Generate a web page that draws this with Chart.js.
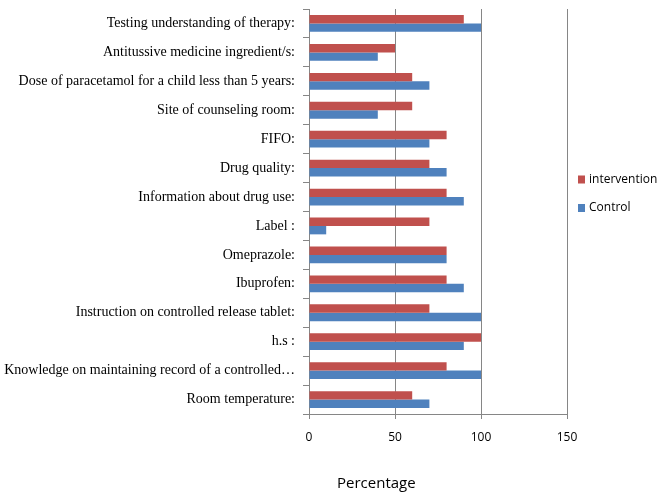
<!DOCTYPE html>
<html>
<head>
<meta charset="utf-8">
<script src="https://cdn.jsdelivr.net/npm/chart.js@4"></script>
<style>
  html, body { margin: 0; padding: 0; background: #fff; }
  #wrap { width: 661px; height: 493px; }
</style>
</head>
<body>
<div id="wrap"><canvas id="bars" width="661" height="493"></canvas></div>
<script>
// Categories from top to bottom
const categories = [
    'Testing understanding of therapy:',
    'Antitussive medicine ingredient/s:',
    'Dose of paracetamol for a child less than 5 years:',
    'Site of counseling room:',
    'FIFO:',
    'Drug quality:',
    'Information about drug use:',
    'Label :',
    'Omeprazole:',
    'Ibuprofen:',
    'Instruction on controlled release tablet:',
    'h.s :',
    'Knowledge on maintaining record of a controlled\u2026',
    'Room temperature:'
];
const intervention = [90, 50, 60, 60, 80, 70, 80, 70, 80, 80, 70, 100, 80, 60];
const control = [100, 40, 70, 40, 70, 80, 90, 10, 80, 90, 100, 90, 100, 70];
const seriesNames = ['intervention', 'Control'];
const xMin = 0, xMax = 150, xStep = 50;
const xTitle = 'Percentage';

const gridGrey = '#868686';

// legend drawn beside the plot, read from the datasets
const sideLegend = {
    id: 'sideLegend',
    afterDraw(chart) {
        const { ctx, chartArea } = chart;
        ctx.save();
        ctx.font = '12px "Open Sans"';
        ctx.textBaseline = 'middle';
        chart.data.datasets.forEach((ds, i) => {
            const y = chartArea.top + 170.5 + i * 28.5;
            const x = chartArea.right + 11;
            ctx.fillStyle = ds.backgroundColor;
            ctx.fillRect(x, y - 4, 7, 8);
            ctx.fillStyle = '#000';
            ctx.fillText(ds.label, x + 11, y);
        });
        ctx.restore();
    }
};

// axis title sits left of centre in the original
const xAxisTitle = {
    id: 'xAxisTitle',
    afterDraw(chart) {
        const { ctx, chartArea } = chart;
        ctx.save();
        ctx.font = '15px "Open Sans"';
        ctx.textBaseline = 'middle';
        ctx.fillStyle = '#000';
        ctx.fillText(xTitle, chartArea.left + 28, chart.height - 9);
        ctx.restore();
    }
};

const chart = new Chart('bars', {
    type: 'bar',
    data: {
        labels: categories,
        datasets: [
            { label: seriesNames[0], data: intervention, backgroundColor: '#C0504D' },
            { label: seriesNames[1], data: control, backgroundColor: '#4F81BD' }
        ]
    },
    options: {
        indexAxis: 'y',
        responsive: false,
        animation: false,
        layout: { padding: { top: 9, right: 94, left: 0, bottom: 0 } },
        datasets: { bar: { categoryPercentage: 0.58, barPercentage: 1 } },
        plugins: {
            legend: { display: false },
            tooltip: { enabled: false }
        },
        scales: {
            x: {
                min: xMin,
                max: xMax,
                ticks: {
                    stepSize: xStep,
                    padding: 11,
                    color: '#000',
                    font: { family: 'Open Sans', size: 12 }
                },
                grid: { color: gridGrey, tickLength: 5 },
                border: { color: gridGrey },
                afterFit(scale) { scale.height = 79; }
            },
            y: {
                ticks: {
                    padding: 8,
                    color: '#000',
                    autoSkip: false,
                    font: { family: 'Liberation Serif', size: 14 }
                },
                grid: { drawOnChartArea: false, color: gridGrey, tickLength: 6 },
                border: { color: gridGrey },
                afterFit(scale) {
                    scale.width = 309;
                    scale.paddingTop = 0;
                    scale.paddingBottom = 0;
                }
            }
        }
    },
    plugins: [sideLegend, xAxisTitle]
});
</script>
</body>
</html>
